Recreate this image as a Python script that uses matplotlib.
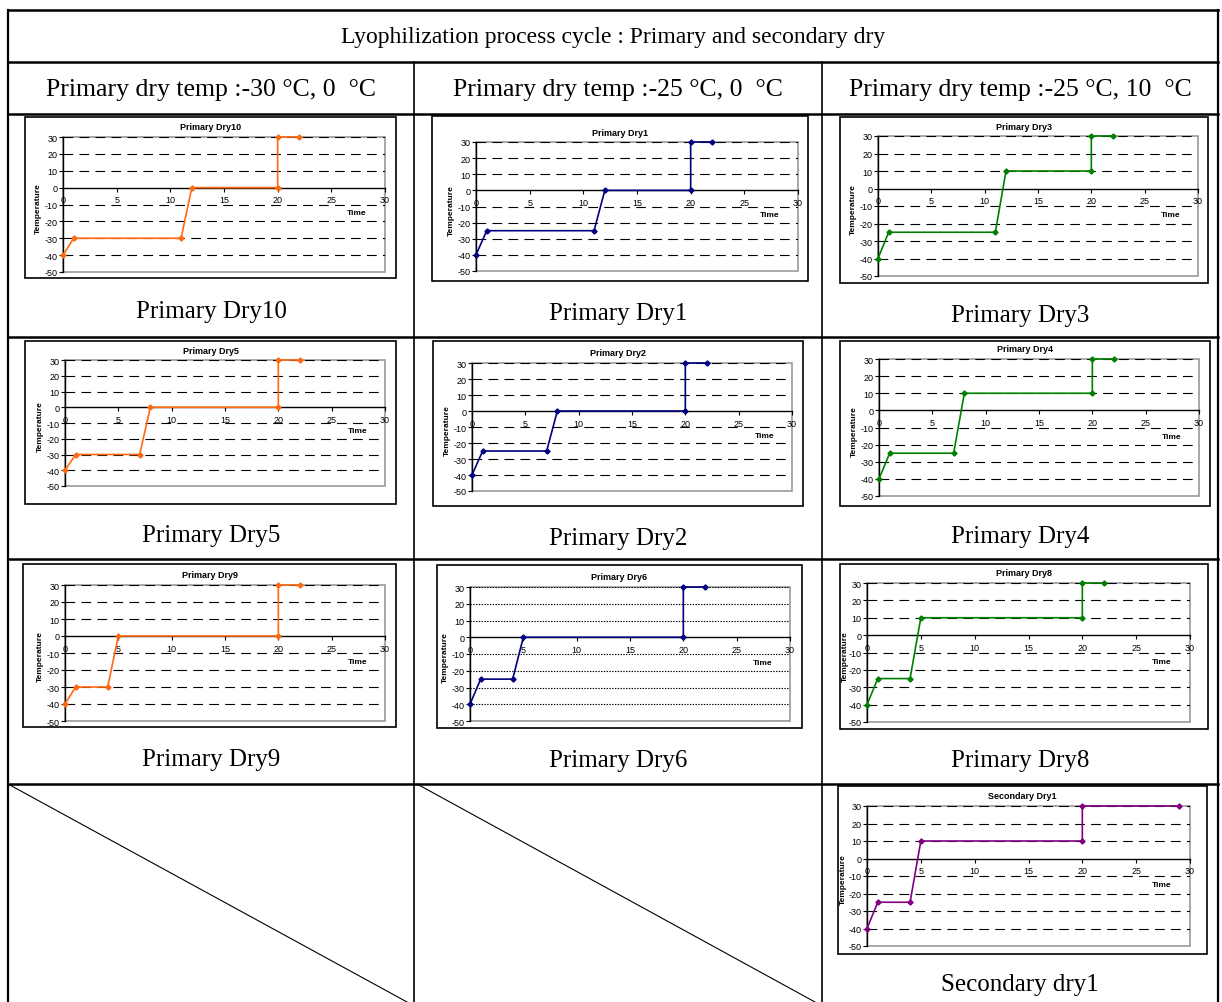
import matplotlib
matplotlib.use('Agg')
import matplotlib.pyplot as plt
from matplotlib.lines import Line2D
from matplotlib.patches import Rectangle

W, H = 1222, 1003

# shelf temperature programmes (time in h, temperature in deg C)
dry10_time = [0, 1, 11, 12, 20, 20, 22]
dry10_temp = [-40, -30, -30, 0, 0, 30, 30]
dry1_time = [0, 1, 11, 12, 20, 20, 22]
dry1_temp = [-40, -25, -25, 0, 0, 30, 30]
dry3_time = [0, 1, 11, 12, 20, 20, 22]
dry3_temp = [-40, -25, -25, 10, 10, 30, 30]
dry5_time = [0, 1, 7, 8, 20, 20, 22]
dry5_temp = [-40, -30, -30, 0, 0, 30, 30]
dry2_time = [0, 1, 7, 8, 20, 20, 22]
dry2_temp = [-40, -25, -25, 0, 0, 30, 30]
dry4_time = [0, 1, 7, 8, 20, 20, 22]
dry4_temp = [-40, -25, -25, 10, 10, 30, 30]
dry9_time = [0, 1, 4, 5, 20, 20, 22]
dry9_temp = [-40, -30, -30, 0, 0, 30, 30]
dry6_time = [0, 1, 4, 5, 20, 20, 22]
dry6_temp = [-40, -25, -25, 0, 0, 30, 30]
dry8_time = [0, 1, 4, 5, 20, 20, 22]
dry8_temp = [-40, -25, -25, 10, 10, 30, 30]
sec1_time = [0, 1, 4, 5, 20, 20, 29]
sec1_temp = [-40, -25, -25, 10, 10, 30, 30]

x_ticks = [0, 5, 10, 15, 20, 25, 30]
y_ticks = [-50, -40, -30, -20, -10, 0, 10, 20, 30]

table_title = "Lyophilization process cycle : Primary and secondary dry"
column_heads = ["Primary dry temp :-30 °C, 0  °C",
                "Primary dry temp :-25 °C, 0  °C",
                "Primary dry temp :-25 °C, 10  °C"]

ORANGE = '#FF6A10'
NAVY = '#000080'
GREEN = '#008000'
PURPLE = '#800080'

plt.rcParams['lines.scale_dashes'] = False
plt.rcParams['axes.unicode_minus'] = False
SANS = 'Liberation Sans'
SERIF = 'Liberation Serif'

fig = plt.figure(figsize=(W / 100, H / 100), dpi=100)


def fx(x):
    return x / W


def fy(y):
    return 1 - y / H


def seg(x0, y0, x1, y1, lw):
    fig.add_artist(Line2D([fx(x0), fx(x1)], [fy(y0), fy(y1)], color='black',
                          lw=lw, transform=fig.transFigure))


def chart(frame, plot, title, t, temp, color, dotted=False):
    fl, ft, fr, fb = frame
    fig.add_artist(Rectangle((fx(fl), fy(fb)), (fr - fl) / W, (fb - ft) / H,
                             fill=False, ec='black', lw=1.2,
                             transform=fig.transFigure))
    pl, pt, pr, pb = plot
    ax = fig.add_axes([fx(pl), fy(pb), (pr - pl) / W, (pb - pt) / H])
    ax.set_xlim(0, 30)
    ax.set_ylim(-50, 30)
    ax.add_patch(Rectangle((0, 0), 1, 1, transform=ax.transAxes, fill=False,
                           ec='#9a9a9a', lw=1.2, zorder=0.5, clip_on=False))
    if dotted:
        levels, ls = [-50, -40, -30, -20, -10, 10, 20, 30], (0, (1, 1))
    else:
        levels, ls = [-40, -30, -20, -10, 10, 20, 30], (0, (7, 4.5))
    for lv in levels:
        ax.axhline(lv, color='black', lw=0.8, ls=ls, zorder=1)
    ax.plot(t, temp, color=color, lw=1.2, marker='D', ms=2.6, zorder=3,
            clip_on=False)

    for s in ('top', 'right'):
        ax.spines[s].set_visible(False)
    ax.spines['bottom'].set_position(('data', 0))
    ax.spines['bottom'].set_linewidth(1.0)
    ax.spines['left'].set_linewidth(1.0)
    ax.set_xticks(x_ticks)
    ax.set_yticks(y_ticks)
    ax.tick_params(length=3, width=0.8, pad=1, labelsize=6.5)
    ax.tick_params(axis='x', pad=2.5)
    for lab in ax.get_xticklabels() + ax.get_yticklabels():
        lab.set_family(SANS)

    ax.text(27.4, -15, 'Time', fontsize=6, fontweight='bold', family=SANS,
            ha='center', va='center')
    # rotated axis label sits in the gap left of the tick labels
    lab_x = max(pl - 25, fl + 5)
    fig.text(fx(lab_x), fy(pt + 0.52 * (pb - pt)), 'Temperature', rotation=90,
             fontsize=6, fontweight='bold', family=SANS, ha='center',
             va='center')
    fig.text(fx((fl + fr) / 2), fy(pt - 10), title, fontsize=6.5,
             fontweight='bold', family=SANS, ha='center', va='center')
    return ax


# table grid
for y in (11, 63, 115, 338, 560, 785):
    seg(8, y, 1218, y, 1.8)
seg(8, 11, 8, 1003, 1.6)
seg(1218, 11, 1218, 1003, 1.6)
seg(414, 63, 414, 1003, 1.2)
seg(822, 63, 822, 1003, 1.2)
seg(8, 785, 407, 1003, 0.8)
seg(417, 785, 815, 1003, 0.8)

fig.text(fx(613), fy(37), table_title, fontsize=17, family=SERIF,
         ha='center', va='center')
for cx, head in zip((211, 618, 1020), column_heads):
    fig.text(fx(cx), fy(90), head, fontsize=18.5, family=SERIF,
             ha='center', va='center')

chart((25, 118, 396, 279), (63, 138, 385, 273), 'Primary Dry10',
      dry10_time, dry10_temp, ORANGE)
chart((432, 117, 808, 282), (476, 143, 798, 272), 'Primary Dry1',
      dry1_time, dry1_temp, NAVY)
chart((840, 118, 1208, 284), (878, 137, 1198, 277), 'Primary Dry3',
      dry3_time, dry3_temp, GREEN)
chart((25, 342, 396, 505), (65, 361, 385, 487), 'Primary Dry5',
      dry5_time, dry5_temp, ORANGE)
chart((433, 342, 803, 507), (472, 364, 792, 492), 'Primary Dry2',
      dry2_time, dry2_temp, NAVY)
chart((840, 342, 1210, 507), (879, 360, 1199, 497), 'Primary Dry4',
      dry4_time, dry4_temp, GREEN)
chart((23, 565, 396, 728), (65, 586, 385, 722), 'Primary Dry9',
      dry9_time, dry9_temp, ORANGE)
chart((437, 566, 802, 729), (470, 588, 790, 722), 'Primary Dry6',
      dry6_time, dry6_temp, NAVY, dotted=True)
chart((840, 565, 1208, 730), (867, 584, 1190, 723), 'Primary Dry8',
      dry8_time, dry8_temp, GREEN)
chart((838, 787, 1207, 955), (867, 807, 1190, 947), 'Secondary Dry1',
      sec1_time, sec1_temp, PURPLE)

captions = [(211, 312, 'Primary Dry10'), (618, 314, 'Primary Dry1'),
            (1020, 316, 'Primary Dry3'), (211, 536, 'Primary Dry5'),
            (618, 539, 'Primary Dry2'), (1020, 537, 'Primary Dry4'),
            (211, 760, 'Primary Dry9'), (618, 761, 'Primary Dry6'),
            (1020, 761, 'Primary Dry8'), (1020, 985, 'Secondary dry1')]
for cx, cy, txt in captions:
    fig.text(fx(cx), fy(cy), txt, fontsize=18, family=SERIF,
             ha='center', va='center')

fig.savefig('out.png', dpi=100)
